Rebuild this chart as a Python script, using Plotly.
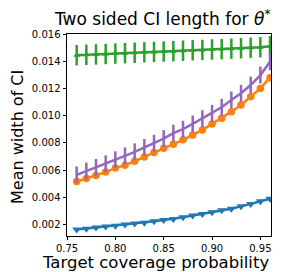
import plotly.graph_objects as go

coverage = [0.76, 0.77, 0.78, 0.79, 0.80, 0.81, 0.82, 0.83, 0.84, 0.85, 0.86,
            0.87, 0.88, 0.89, 0.90, 0.91, 0.92, 0.93, 0.94, 0.95, 0.96]

blue = [0.00162, 0.00169, 0.00177, 0.00184, 0.00191, 0.00199, 0.00206, 0.00213,
        0.00223, 0.00233, 0.00240, 0.00252, 0.00265, 0.00277, 0.00289, 0.00304,
        0.00316, 0.00333, 0.00350, 0.00370, 0.00389]
orange = [0.00516, 0.00538, 0.00560, 0.00585, 0.00614, 0.00636, 0.00665, 0.00695,
          0.00729, 0.00760, 0.00790, 0.00822, 0.00858, 0.00895, 0.00939, 0.00981,
          0.01029, 0.01078, 0.01139, 0.01200, 0.01279]
green = [0.01444, 0.01447, 0.01450, 0.01453, 0.01456, 0.01459, 0.01462, 0.01465,
         0.01468, 0.01471, 0.01474, 0.01477, 0.01480, 0.01483, 0.01486, 0.01489,
         0.01492, 0.01495, 0.01499, 0.01503, 0.01510]
purple = [0.00565, 0.00592, 0.00619, 0.00646, 0.00675, 0.00704, 0.00734, 0.00766,
          0.00797, 0.00831, 0.00871, 0.00900, 0.00939, 0.00978, 0.01017, 0.01061,
          0.01115, 0.01164, 0.01225, 0.01298, 0.01396]
green_err = [0.00075] * 21
purple_err = [0.00062] * 21
blue_err = [0.00005] * 21

y_ticks = [0.002, 0.004, 0.006, 0.008, 0.010, 0.012, 0.014, 0.016]
x_ticks = [0.75, 0.80, 0.85, 0.90, 0.95]

title_text = "Two sided CI length for <i>θ</i><sup>*</sup>"
x_title = "Target coverage probability"
y_title = "Mean width of CI"

fig = go.Figure()

fig.add_trace(go.Scatter(
    x=coverage, y=blue, mode="lines+markers",
    line=dict(color="#1f77b4", width=2.5),
    marker=dict(symbol="triangle-down", size=8, color="#1f77b4"),
    error_y=dict(type="data", array=blue_err, color="#1f77b4", thickness=2, width=0),
))
fig.add_trace(go.Scatter(
    x=coverage, y=orange, mode="lines+markers",
    line=dict(color="#ff7f0e", width=2.5),
    marker=dict(symbol="circle", size=7.5, color="#ff7f0e"),
))
fig.add_trace(go.Scatter(
    x=coverage, y=green, mode="lines+markers",
    line=dict(color="#2ca02c", width=2.5),
    marker=dict(symbol="triangle-up", size=6, color="#2ca02c"),
    error_y=dict(type="data", array=green_err, color="#2ca02c", thickness=2.5, width=0),
))
fig.add_trace(go.Scatter(
    x=coverage, y=purple, mode="lines",
    line=dict(color="#9467bd", width=2.5),
    error_y=dict(type="data", array=purple_err, color="#9467bd", thickness=2.5, width=0),
))

font_family = "DejaVu Sans"
L, R, T, B = 59, 19, 26, 44
W, H = 282, 272
pw, ph = W - L - R, H - T - B


def px_x(x):
    return (x - L) / pw


def px_y(y):
    return (H - B - y) / ph


fig.update_layout(
    width=W, height=H,
    margin=dict(l=L, r=R, t=T, b=B),
    paper_bgcolor="white", plot_bgcolor="white",
    showlegend=False,
    font=dict(family=font_family, color="black"),
    annotations=[
        dict(text=title_text, xref="paper", yref="paper", x=px_x(154), y=px_y(10.5),
             xanchor="center", yanchor="middle", showarrow=False,
             font=dict(size=17, family=font_family, color="black")),
        dict(text=x_title, xref="paper", yref="paper", x=px_x(147), y=px_y(254),
             xanchor="center", yanchor="middle", showarrow=False,
             font=dict(size=16.5, family=font_family, color="black")),
        dict(text=y_title, xref="paper", yref="paper", x=px_x(9), y=px_y(129),
             xanchor="center", yanchor="middle", showarrow=False, textangle=-90,
             font=dict(size=16, family=font_family, color="black")),
    ],
)
fig.update_xaxes(
    range=[0.75, 0.961], tickvals=x_ticks, ticktext=[f"{v:.2f}" for v in x_ticks],
    showline=True, linecolor="black", linewidth=1, mirror=True,
    ticks="outside", ticklen=3, tickcolor="black", showgrid=False, zeroline=False,
    tickfont=dict(size=10), ticklabelstandoff=0,
)
fig.update_yaxes(
    range=[0.00115, 0.016], tickvals=y_ticks, ticktext=[f"{v:.3f}" for v in y_ticks],
    showline=True, linecolor="black", linewidth=1, mirror=True,
    ticks="outside", ticklen=3.5, tickcolor="black", showgrid=False, zeroline=False,
    tickfont=dict(size=10),
)

fig.write_html("out.html")
